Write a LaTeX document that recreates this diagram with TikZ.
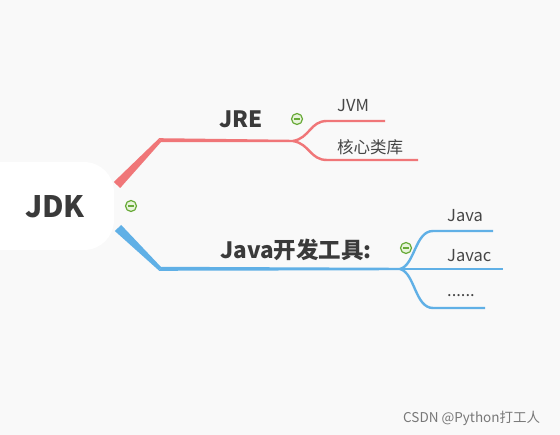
\documentclass[tikz,border=0pt]{standalone}
\usepackage{fontspec}
\setmainfont{Noto Sans CJK SC}
\usetikzlibrary{calc}
\definecolor{bg}{RGB}{249,249,249}
\definecolor{redb}{RGB}{240,118,120}
\definecolor{blueb}{RGB}{96,176,230}
\definecolor{txt}{RGB}{58,58,58}
\definecolor{leaftxt}{RGB}{70,70,70}
\definecolor{grn}{RGB}{104,170,56}
\definecolor{grnf}{RGB}{232,244,220}
\definecolor{wm}{RGB}{120,120,120}
\tikzset{
  boldlbl/.style={font=\bfseries, text=txt, inner sep=0pt},
  leaflbl/.style={font=\fontsize{16.5}{16.5}\selectfont, text=leaftxt, inner sep=0pt, anchor=west},
  collapse/.style={circle, draw=grn, fill=grnf, line width=1.2pt, minimum size=11pt, inner sep=0pt,
    path picture={\draw[grn, line width=1.3pt] ($(path picture bounding box.west)+(2.5pt,0)$) -- ($(path picture bounding box.east)+(-2.5pt,0)$);}},
  redline/.style={draw=redb, line width=2.4pt},
  blueline/.style={draw=blueb, line width=2.4pt},
}
\begin{document}
\begin{tikzpicture}[x=1pt,y=-1pt]
\fill[bg] (0,0) rectangle (560,435);
\useasboundingbox (0,0) rectangle (560,435);
% JDK blob
\fill[white, rounded corners=30pt] (-30,162) rectangle (114,250);
\node[boldlbl, font=\fontsize{29.5}{29.5}\selectfont\bfseries] (jdk) at (55,207) {JDK};
\node[collapse] (c1) at (131,206) {};
% red branch
\coordinate (rA) at (117,185);
\coordinate (rB) at (160,140);
\coordinate (rJ) at (293,141);
\coordinate (jvmA) at (327,121);
\coordinate (jvmB) at (385,121);
\coordinate (libA) at (327,160);
\coordinate (libB) at (418,160);
\fill[redb] ($(rA)+(-3.2,-3.0)$) -- ($(rA)+(3.2,3.0)$) -- ($(rB)+(1.4,1.6)$) -- ($(rB)+(-1.2,-1.4)$) -- cycle;
\fill[redb] ($(rB)+(-1.2,-1.8)$) -- ($(rJ)+(0,-1.2)$) -- ($(rJ)+(0,1.2)$) -- ($(rB)+(1.4,2.2)$) -- cycle;
\draw[redline] (rJ) .. controls (310,138) and (310,121) .. (jvmA) -- (jvmB);
\draw[redline] (rJ) .. controls (310,144) and (310,160) .. (libA) -- (libB);
\node[boldlbl, font=\fontsize{22.5}{22.5}\selectfont\bfseries] (jre) at (241,119) {JRE};
\node[collapse] (c2) at (297,119) {};
\node[leaflbl] (jvm) at (337,106) {JVM};
\node[leaflbl] (lib) at (337,147) {核心类库};
% blue branch
\coordinate (bA) at (118,228);
\coordinate (bB) at (160,269);
\coordinate (bJ) at (400,269);
\coordinate (jA) at (433,231);
\coordinate (jB) at (493,231);
\coordinate (jcB) at (503,269);
\coordinate (dA) at (433,308);
\coordinate (dB) at (485,308);
\fill[blueb] ($(bA)+(-3.2,3.0)$) -- ($(bA)+(3.2,-3.0)$) -- ($(bB)+(1.4,-1.6)$) -- ($(bB)+(-1.2,1.4)$) -- cycle;
\fill[blueb] ($(bB)+(-1.2,1.8)$) -- ($(bJ)+(0,1.2)$) -- ($(bJ)+(0,-1.2)$) -- ($(bB)+(1.4,-2.2)$) -- cycle;
\draw[blueline] (bJ) .. controls (415,265) and (415,231) .. (jA) -- (jB);
\draw[blueline] (bJ) -- (jcB);
\draw[blueline] (bJ) .. controls (415,273) and (415,308) .. (dA) -- (dB);
\node[boldlbl, font=\fontsize{22.5}{22.5}\selectfont\bfseries] (tools) at (296,250) {Java开发工具:};
\node[collapse] (c3) at (406,248) {};
\node[leaflbl] (java) at (447,216) {Java};
\node[leaflbl] (javac) at (447,256) {Javac};
\node[leaflbl] (dots) at (447,296) {......};
% watermark
\node[anchor=west, text=wm, font=\fontsize{13.5}{13.5}\selectfont, inner sep=0pt] (wmk) at (403,418) {CSDN @Python打工人};
\end{tikzpicture}
\end{document}
